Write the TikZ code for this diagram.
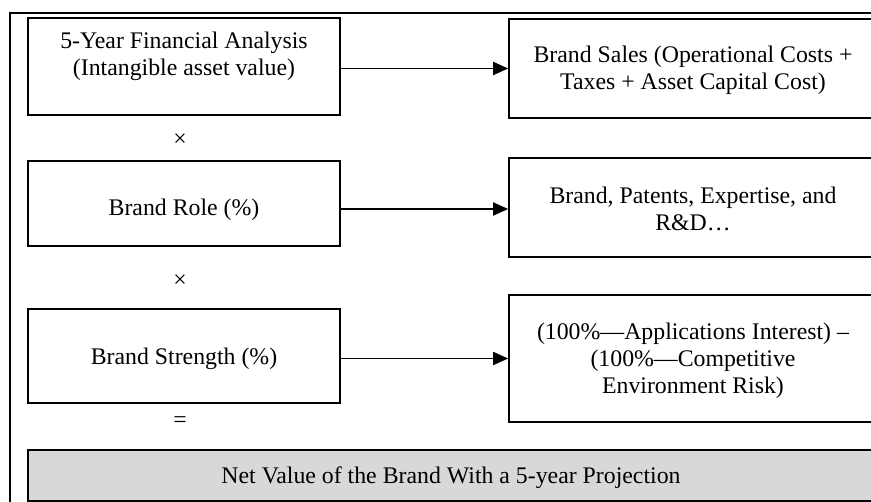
\documentclass[tikz,border=0pt]{standalone}
\usepackage{fontspec}
\setmainfont{Liberation Serif}
\usetikzlibrary{arrows.meta}
\begin{document}
\begin{tikzpicture}[x=1pt,y=-1pt,
  box/.style={draw=black, line width=1.7pt, fill=white, rectangle, inner sep=0pt},
  txt/.style={align=center, inner sep=0pt, font=\fontsize{23.8}{27}\selectfont},
  arr/.style={line width=1.9pt, -{Triangle[length=15pt,width=13pt]}}]
\useasboundingbox (0,0) rectangle (871,502);
\clip (0,0) rectangle (871,502);
% outer frame
\draw[line width=1.7pt] (10,13) rectangle (895,530);
% left column
\node[box, minimum width=312pt, minimum height=97pt] (fin) at (184,66.5) {};
\node[txt] (fintxt) at (184,56) {5-Year Financial Analysis\\(Intangible asset value)};
\node[box, minimum width=312pt, minimum height=85pt] (role) at (184,203.5) {};
\node[txt] (roletxt) at (184,210) {Brand Role (\%)};
\node[box, minimum width=312pt, minimum height=94pt] (strength) at (184,356) {};
\node[txt] (strtxt) at (184,359) {Brand Strength (\%)};
% operators
\node[txt] (times1) at (180,140) {×};
\node[txt] (times2) at (180,281) {×};
\node[txt] (equals) at (180,422) {=};
% right column
\node[box, minimum width=368pt, minimum height=99pt] (sales) at (693,68.5) {};
\node[txt] (salestxt) at (693,70) {Brand Sales (Operational Costs +\\Taxes + Asset Capital Cost)};
\node[box, minimum width=368pt, minimum height=99pt] (rd) at (693,207.5) {};
\node[txt] (rdtxt) at (693,209) {Brand, Patents, Expertise, and\\R\&D…};
\node[box, minimum width=368pt, minimum height=127pt] (risk) at (693,358.5) {};
\node[txt] (risktxt) at (693,361) {(100\%—Applications Interest) –\\(100\%—Competitive\\Environment Risk)};
% result
\node[box, fill={rgb,255:red,216;green,216;blue,216}, minimum width=846pt, minimum height=51pt] (net) at (451,475.5) {};
\node[txt] (nettxt) at (451,478) {Net Value of the Brand With a 5-year Projection};
% connectors
\draw[arr] (fin.east |- sales.west) -- (sales.west);
\draw[arr] (role.east |- 0,209) -- (rd.west |- 0,209);
\draw[arr] (strength.east |- risk.west) -- (risk.west);
\end{tikzpicture}
\end{document}
